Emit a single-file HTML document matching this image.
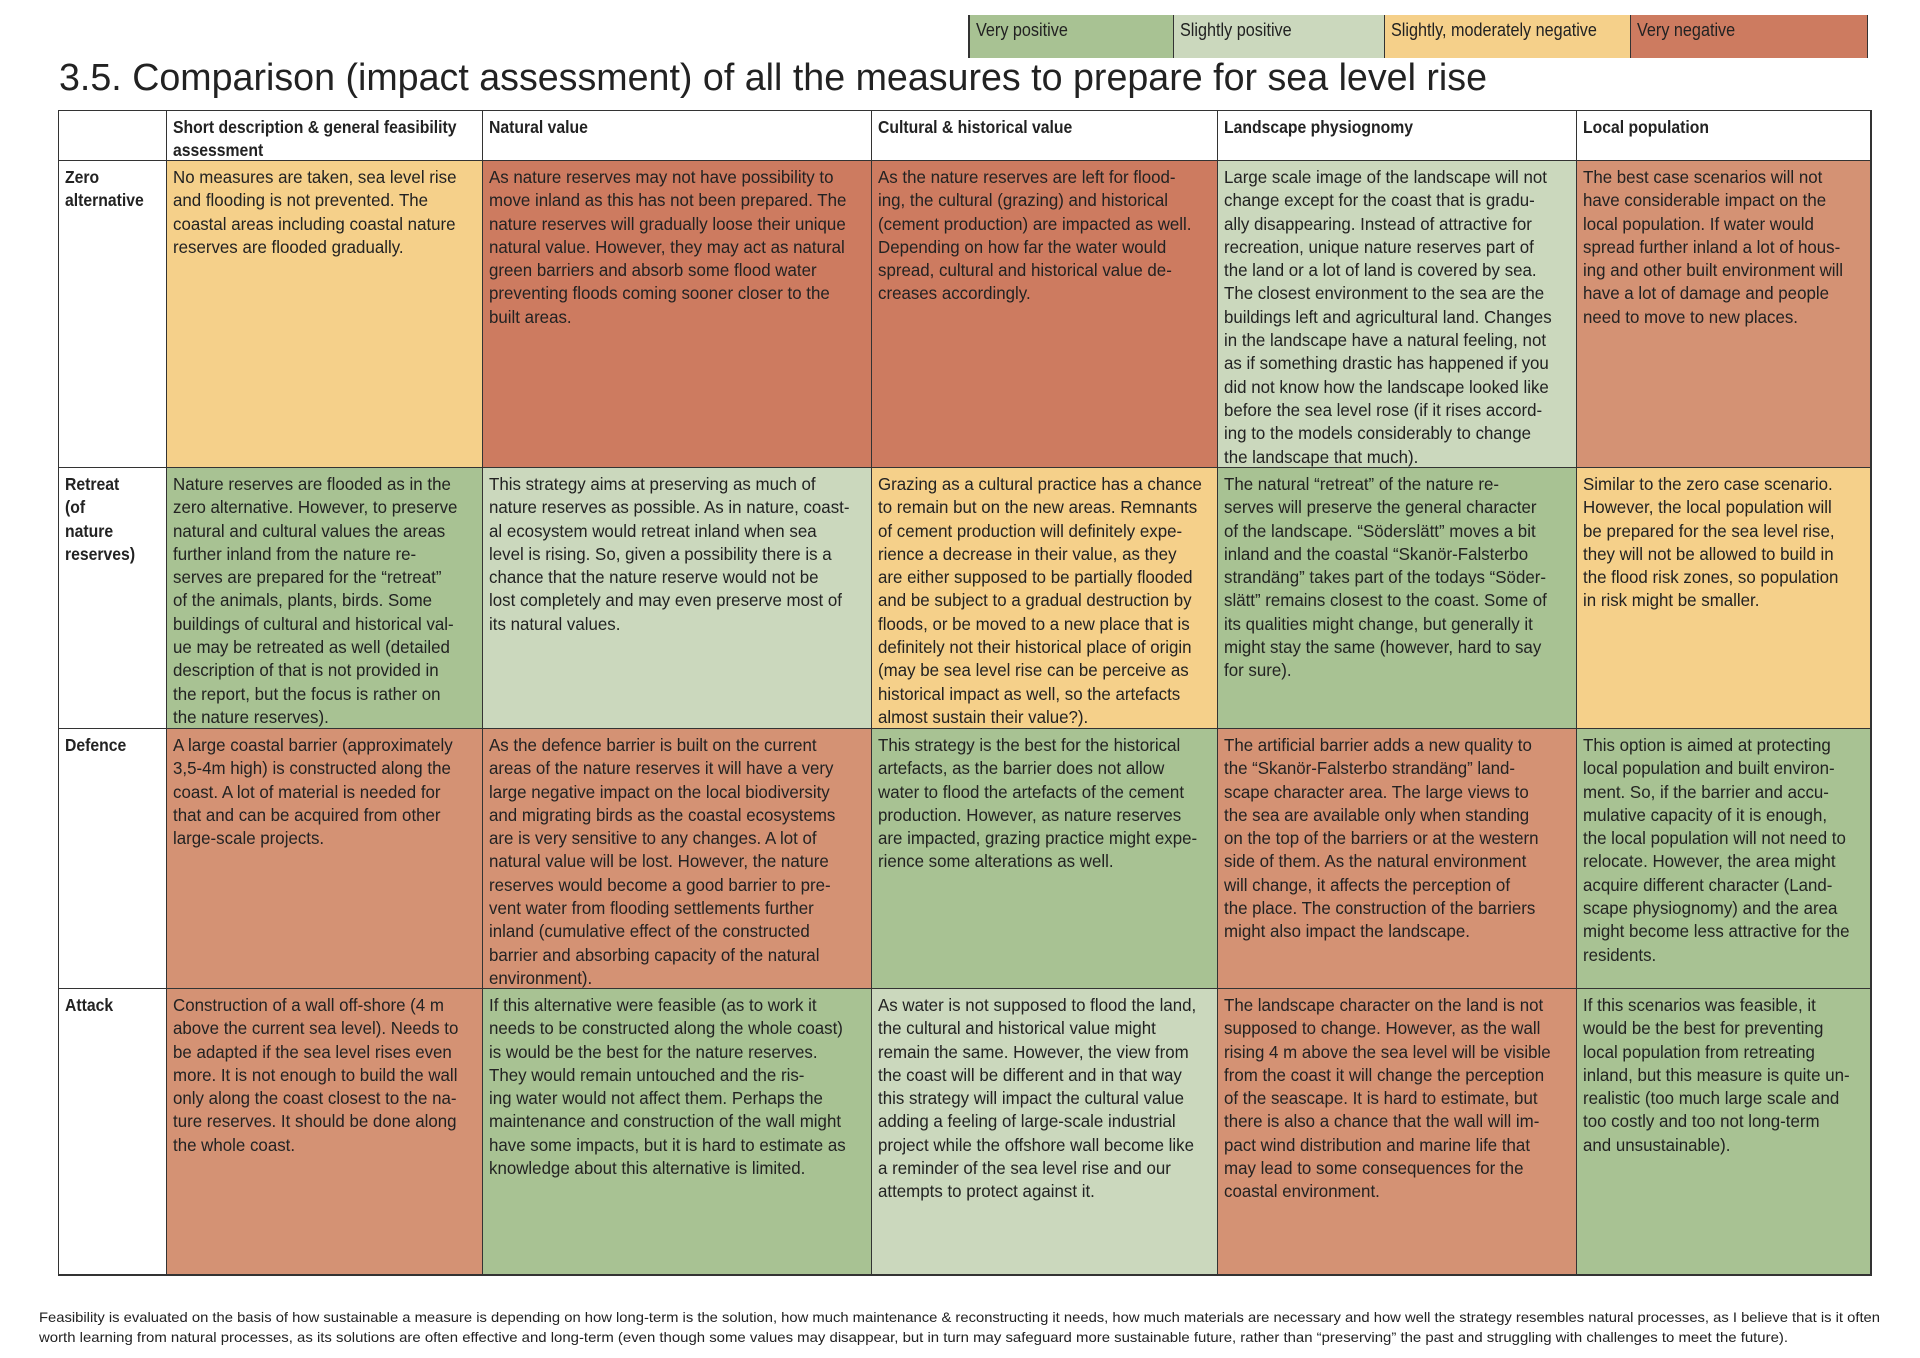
<!DOCTYPE html>
<html><head><meta charset="utf-8">
<style>
body{margin:0;width:1920px;height:1358px;background:#fff;position:relative;overflow:hidden;font-family:"Liberation Sans",sans-serif;color:#222}
.abs{position:absolute}
.cell{position:absolute;box-sizing:border-box;border-right:1px solid #333;border-bottom:1px solid #333;overflow:hidden}
.txt{position:absolute;left:6px;top:5px;font-size:17.5px;line-height:23.3px;white-space:nowrap;transform:scaleX(0.965);transform-origin:0 0}
.hd .txt{font-weight:bold;transform:scaleX(0.9)}
.g{background:#a8c293}.lg{background:#cbd8bd}.y{background:#f5d08a}.r{background:#cd7b60}.lr{background:#d49274}.w{background:#fff}
.leg{position:absolute;top:15px;height:43px;box-sizing:border-box;border-right:1px solid #333;font-size:18px;line-height:30px;padding-left:6px}
.leg span{display:inline-block;transform:scaleX(0.9);transform-origin:0 0;white-space:nowrap}
</style></head><body>
<div class="abs" style="left:968px;top:15px;width:900px;height:43px;border:2px solid #333;box-sizing:border-box"></div>
<div class="leg g" style="left:970px;width:204px"><span>Very positive</span></div>
<div class="leg lg" style="left:1174px;width:211px"><span>Slightly positive</span></div>
<div class="leg y" style="left:1385px;width:246px"><span>Slightly, moderately negative</span></div>
<div class="leg r" style="left:1631px;width:236px;border-right:none"><span>Very negative</span></div>

<svg class="abs" style="left:0;top:0" width="1920" height="110">
<text x="59" y="90" font-family="Liberation Sans, sans-serif" font-size="38" fill="#222" textLength="1428" lengthAdjust="spacingAndGlyphs">3.5. Comparison (impact assessment) of all the measures to prepare for sea level rise</text>
</svg>

<div class="abs" style="left:58px;top:110px;width:1814px;height:1166px;border-left:2px solid #333;border-top:2px solid #333;border-bottom:2px solid #333;border-right:1px solid #333;box-sizing:border-box"></div>
<div id="tbl"></div>

<svg class="abs" style="left:0;top:1300px" width="1920" height="58">
<text x="39" y="22" font-family="Liberation Sans, sans-serif" font-size="14" fill="#222" textLength="1841" lengthAdjust="spacingAndGlyphs">Feasibility is evaluated on the basis of how sustainable a measure is depending on how long-term is the solution, how much maintenance &amp; reconstructing it needs, how much materials are necessary and how well the strategy resembles natural processes, as I believe that is it often</text>
<text x="39" y="42" font-family="Liberation Sans, sans-serif" font-size="14" fill="#222" textLength="1749" lengthAdjust="spacingAndGlyphs">worth learning from natural processes, as its solutions are often effective and long-term (even though some values may disappear, but in turn may safeguard more sustainable future, rather than “preserving” the past and struggling with challenges to meet the future).</text>
</svg>

<script>
const cols=[59,167,483,872,1218,1577,1871];
const rows=[111,161,468,729,989,1275];
const header=["","Short description & general feasibility|assessment","Natural value","Cultural & historical value","Landscape physiognomy","Local population"];
const rowNames=["Zero|alternative","Retreat|(of|nature|reserves)","Defence","Attack"];
const colors=[["y","r","r","lg","lr"],["g","lg","y","g","y"],["lr","lr","g","lr","g"],["lr","g","lg","lr","g"]];
const texts=[
["No measures are taken, sea level rise|and flooding is not prevented. The|coastal areas including coastal nature|reserves are flooded gradually.",
"As nature reserves may not have possibility to|move inland as this has not been prepared. The|nature reserves will gradually loose their unique|natural value. However, they may act as natural|green barriers and absorb some flood water|preventing floods coming sooner closer to the|built areas.",
"As the nature reserves are left for flood-|ing, the cultural (grazing) and historical|(cement production) are impacted as well.|Depending on how far the water would|spread, cultural and historical value de-|creases accordingly.",
"Large scale image of the landscape will not|change except for the coast that is gradu-|ally disappearing. Instead of attractive for|recreation, unique nature reserves part of|the land or a lot of land is covered by sea.|The closest environment to the sea are the|buildings left and agricultural land. Changes|in the landscape have a natural feeling, not|as if something drastic has happened if you|did not know how the landscape looked like|before the sea level rose (if it rises accord-|ing to the models considerably to change|the landscape that much).",
"The best case scenarios will not|have considerable impact on the|local population. If water would|spread further inland a lot of hous-|ing and other built environment will|have a lot of damage and people|need to move to new places."],
["Nature reserves are flooded as in the|zero alternative. However, to preserve|natural and cultural values the areas|further inland from the nature re-|serves are prepared for the “retreat”|of the animals, plants, birds. Some|buildings of cultural and historical val-|ue may be retreated as well (detailed|description of that is not provided in|the report, but the focus is rather on|the nature reserves).",
"This strategy aims at preserving as much of|nature reserves as possible. As in nature, coast-|al ecosystem would retreat inland when sea|level is rising. So, given a possibility there is a|chance that the nature reserve would not be|lost completely and may even preserve most of|its natural values.",
"Grazing as a cultural practice has a chance|to remain but on the new areas. Remnants|of cement production will definitely expe-|rience a decrease in their value, as they|are either supposed to be partially flooded|and be subject to a gradual destruction by|floods, or be moved to a new place that is|definitely not their historical place of origin|(may be sea level rise can be perceive as|historical impact as well, so the artefacts|almost sustain their value?).",
"The natural “retreat” of the nature re-|serves will preserve the general character|of the landscape. “Söderslätt” moves a bit|inland and the coastal “Skanör-Falsterbo|strandäng” takes part of the todays “Söder-|slätt” remains closest to the coast. Some of|its qualities might change, but generally it|might stay the same (however, hard to say|for sure).",
"Similar to the zero case scenario.|However, the local population will|be prepared for the sea level rise,|they will not be allowed to build in|the flood risk zones, so population|in risk might be smaller."],
["A large coastal barrier (approximately|3,5-4m high) is constructed along the|coast. A lot of material is needed for|that and can be acquired from other|large-scale projects.",
"As the defence barrier is built on the current|areas of the nature reserves it will have a very|large negative impact on the local biodiversity|and migrating birds as the coastal ecosystems|are is very sensitive to any changes. A lot of|natural value will be lost. However, the nature|reserves would become a good barrier to pre-|vent water from flooding settlements further|inland (cumulative effect of the constructed|barrier and absorbing capacity of the natural|environment).",
"This strategy is the best for the historical|artefacts, as the barrier does not allow|water to flood the artefacts of the cement|production. However, as nature reserves|are impacted, grazing practice might expe-|rience some alterations as well.",
"The artificial barrier adds a new quality to|the “Skanör-Falsterbo strandäng” land-|scape character area. The large views to|the sea are available only when standing|on the top of the barriers or at the western|side of them. As the natural environment|will change, it affects the perception of|the place. The construction of the barriers|might also impact the landscape.",
"This option is aimed at protecting|local population and built environ-|ment. So, if the barrier and accu-|mulative capacity of it is enough,|the local population will not need to|relocate. However, the area might|acquire different character (Land-|scape physiognomy) and the area|might become less attractive for the|residents."],
["Construction of a wall off-shore (4 m|above the current sea level). Needs to|be adapted if the sea level rises even|more. It is not enough to build the wall|only along the coast closest to the na-|ture reserves. It should be done along|the whole coast.",
"If this alternative were feasible (as to work it|needs to be constructed along the whole coast)|is would be the best for the nature reserves.|They would remain untouched and the ris-|ing water would not affect them. Perhaps the|maintenance and construction of the wall might|have some impacts, but it is hard to estimate as|knowledge about this alternative is limited.",
"As water is not supposed to flood the land,|the cultural and historical value might|remain the same. However, the view from|the coast will be different and in that way|this strategy will impact the cultural value|adding a feeling of large-scale industrial|project while the offshore wall become like|a reminder of the sea level rise and our|attempts to protect against it.",
"The landscape character on the land is not|supposed to change. However, as the wall|rising 4 m above the sea level will be visible|from the coast it will change the perception|of the seascape. It is hard to estimate, but|there is also a chance that the wall will im-|pact wind distribution and marine life that|may lead to some consequences for the|coastal environment.",
"If this scenarios was feasible, it|would be the best for preventing|local population from retreating|inland, but this measure is quite un-|realistic (too much large scale and|too costly and too not long-term|and unsustainable)."]
];
const tbl=document.getElementById('tbl');
function esc(s){return s.replace(/&/g,'&amp;').replace(/</g,'&lt;');}
function mk(x0,x1,y0,y1,cls,text,name,bold){
  const d=document.createElement('div');
  d.className='cell '+cls+(bold?' hd':'');
  d.style.left=x0+'px';d.style.top=y0+'px';d.style.width=(x1-x0)+'px';d.style.height=(y1-y0)+'px';
  
  
  const t=document.createElement('div');t.className='txt';
  t.innerHTML=text.split('|').map(esc).join('<br>');
  d.appendChild(t);tbl.appendChild(d);
}
for(let c=0;c<6;c++) mk(cols[c],cols[c+1],rows[0],rows[1],'w',header[c],'header-cell-'+c,true);
for(let r=0;r<4;r++){
  mk(cols[0],cols[1],rows[r+1],rows[r+2],'w',rowNames[r],'row-label-'+r,true);
  for(let c=0;c<5;c++) mk(cols[c+1],cols[c+2],rows[r+1],rows[r+2],colors[r][c],texts[r][c],'cell-r'+r+'-c'+c,false);
}
</script>
</body></html>
